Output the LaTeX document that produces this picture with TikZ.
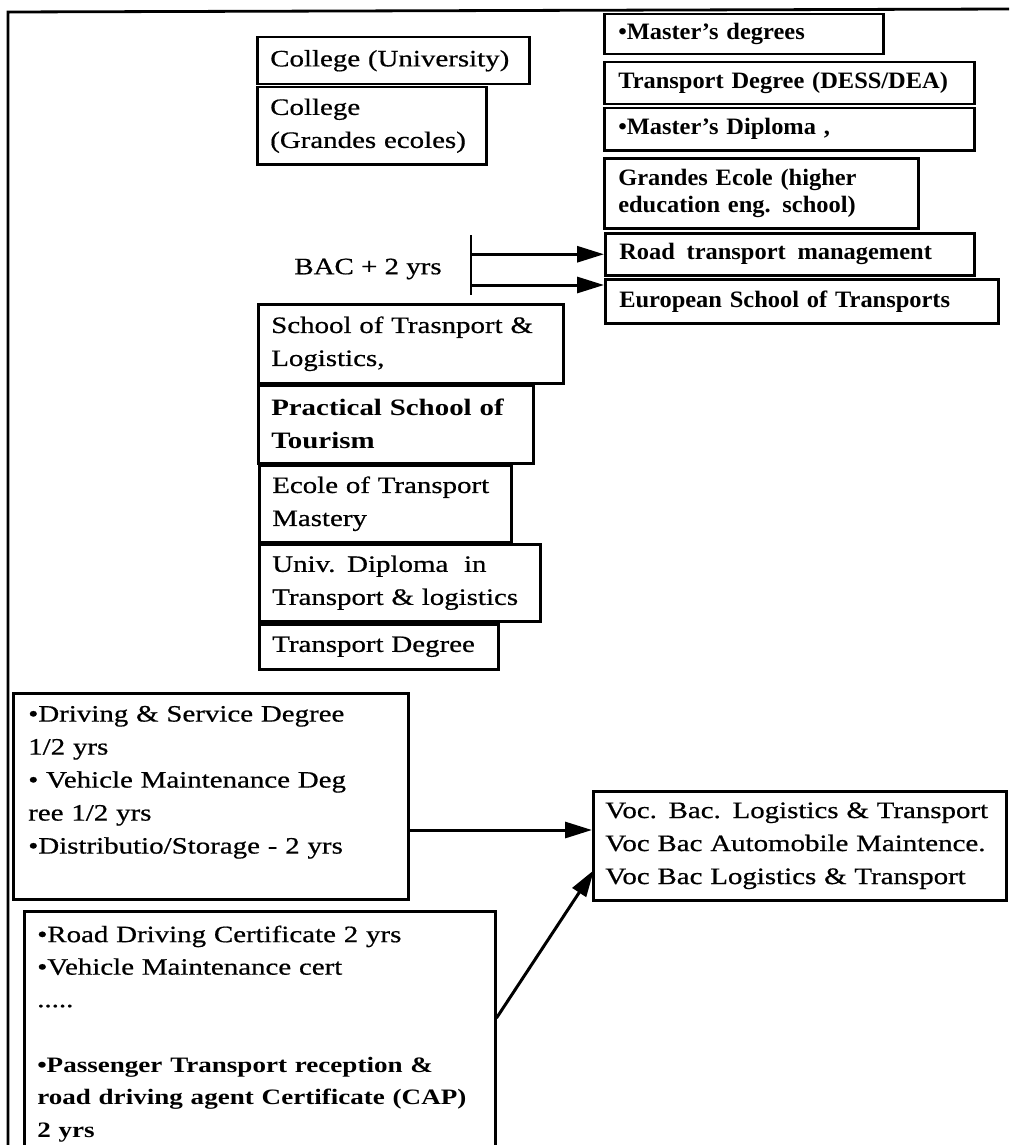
\documentclass[tikz,border=0pt]{standalone}
\usepackage{fontspec}
\setmainfont{Liberation Serif}[FakeStretch=1.23, UprightFeatures={FakeBold=0.6}]
\newfontfamily\colfont{Liberation Serif}[FakeStretch=1.04]
\usetikzlibrary{arrows.meta,calc}

\tikzset{
  box/.style={draw, line width=2.5pt, anchor=north west, align=left,
    inner xsep=13pt, inner ysep=3pt, font=\fontsize{23.5}{33}\selectfont},
  rbox/.style={box, inner xsep=14pt, font=\colfont\fontsize{23.5}{27}\selectfont\bfseries},
  arr/.style={line width=3pt, -{Triangle[length=27pt,width=16pt]}},
  frame/.style={line width=2.8pt},
}

\begin{document}
\begin{tikzpicture}[x=1pt,y=-1pt]
\useasboundingbox (0,0) rectangle (1009,1145);
\fill[white] (0,0) rectangle (1009,1145);
\clip (0,0) rectangle (1009,1145);

% outer frame (top and left edges)
\coordinate (ftr) at (1012,9);
\coordinate (ftl) at (8,12);
\coordinate (fbl) at (8,1150);
\draw[frame] (ftr) -- (ftl) -- (fbl);

% university level
\node[box, text width=246pt, minimum height=47pt] (colu) at (256,36) {College (University)};
\node[box, text width=203pt, minimum height=77pt] (colg) at (256,86) {College\\(Grandes ecoles)};

% postgraduate column
\node[rbox, text width=251pt, minimum height=40pt] (mdeg) at (603,13) {•Master’s degrees};
\node[rbox, text width=342pt, minimum height=42pt] (dess) at (603,61) {Transport Degree (DESS/DEA)};
\node[rbox, text width=342pt, minimum height=42pt] (mdip) at (603,107) {•Master’s Diploma ,};
\node[rbox, text width=286pt, minimum height=70pt] (gecole) at (603,157) {Grandes Ecole (higher\\education eng. school)};
\node[rbox, text width=341pt, minimum height=42pt] (road) at (604,232) {Road\,\ transport\,\ management};
\node[rbox, text width=365pt, minimum height=44pt] (euro) at (604,278) {European School of Transports};

% BAC + 2 branch
\node[font=\fontsize{23.5}{33}\selectfont] (bac) at (368,269) {BAC + 2 yrs};
\coordinate (bartop) at (471,235);
\coordinate (barbot) at (471,295);
\draw[frame] (bartop) -- (barbot);
\coordinate (euin) at ($(euro.north west)+(0,7)$);
\draw[arr] (bartop |- road.west) -- (road.west);
\draw[arr] (bartop |- euin) -- (euin);

% BAC + 2 schools
\node[box, text width=279pt, minimum height=79pt] (stl) at (257,303) {School of Trasnport \&\\Logistics,};
\node[box, text width=249pt, minimum height=78pt, font=\fontsize{23.5}{33}\selectfont\bfseries] (pst) at (257,384) {Practical School of\\Tourism};
\node[box, text width=226pt, minimum height=77pt] (etm) at (258,464) {Ecole of Transport\\Mastery};
\node[box, text width=255pt, minimum height=77pt] (udt) at (258,543) {Univ. Diploma\ \ in\\Transport \& logistics};
\node[box, text width=213pt, minimum height=45pt] (tdeg) at (258,623) {Transport Degree};

% vocational level
\node[box, inner xsep=15pt, text width=365pt, minimum height=206pt] (drv) at (12,692)
  {•Driving \& Service Degree\\1/2 yrs\\• Vehicle Maintenance Deg\\ree 1/2 yrs\\•Distributio/Storage - 2 yrs\\\mbox{}};
\node[box, inner xsep=12pt, text width=389pt, minimum height=109pt] (voc) at (592,790)
  {Voc. Bac. Logistics \& Transport\\Voc Bac Automobile Maintence.\\Voc Bac Logistics \& Transport};
\node[box, inner xsep=13pt, text width=445pt, minimum height=245pt, font=\fontsize{23.5}{32.5}\selectfont] (cap) at (23,910)
  {•Road Driving Certificate 2 yrs\\•Vehicle Maintenance cert\\.....\\\mbox{}\\
   {\fontsize{22}{32.5}\selectfont\bfseries •Passenger Transport reception \&}\\
   {\fontsize{22}{32.5}\selectfont\bfseries road driving agent Certificate (CAP)}\\
   {\fontsize{22}{32.5}\selectfont\bfseries 2 yrs}};

\coordinate (vin) at ($(voc.north west)+(0,40)$);
\draw[arr] (drv.east |- vin) -- (vin);
\coordinate (capout) at ($(cap.north east)+(0,108)$);
\coordinate (vin2) at ($(voc.north west)+(2,80)$);
\draw[arr] (capout) -- (vin2);
\end{tikzpicture}
\end{document}
